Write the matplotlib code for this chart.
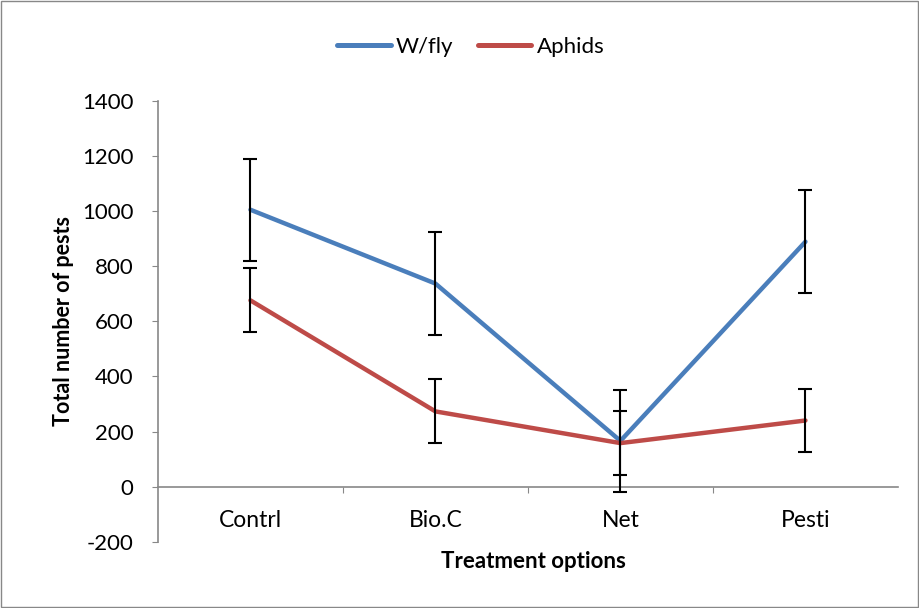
import matplotlib
matplotlib.use("Agg")
import matplotlib.pyplot as plt
from matplotlib.patches import Rectangle

categories = ["Contrl", "Bio.C", "Net", "Pesti"]
wfly = [1005, 737, 166, 889]
wfly_err = [186, 186, 186, 186]
aphids = [676, 273, 158, 240]
aphids_err = [116, 116, 116, 116]
yticks = [-200, 0, 200, 400, 600, 800, 1000, 1200, 1400]

plt.rcParams['font.family'] = ['Lato', 'DejaVu Sans']

fig = plt.figure(figsize=(9.2, 6.08), dpi=100)
fig.patches.append(Rectangle((0.001, 0.001), 0.997, 0.997, transform=fig.transFigure,
                             fill=False, edgecolor='#888888', linewidth=1))
ax = fig.add_axes([0.1717, 0.109, 0.8043, 0.725])

x = list(range(len(categories)))
blue = '#4A7EBB'
red = '#BE4B48'
ax.plot(x, wfly, color=blue, lw=3.2, label='W/fly', solid_capstyle='round', zorder=3)
ax.plot(x, aphids, color=red, lw=3.2, label='Aphids', solid_capstyle='round', zorder=3)
ax.errorbar(x, wfly, yerr=wfly_err, fmt='none', ecolor='black', elinewidth=1.5,
            capsize=5, capthick=1.5, zorder=4)
ax.errorbar(x, aphids, yerr=aphids_err, fmt='none', ecolor='black', elinewidth=1.5,
            capsize=5, capthick=1.5, zorder=4)

ax.set_xlim(-0.5, 3.5)
ax.set_ylim(-200, 1400)
ax.set_yticks(yticks)
ax.set_yticklabels([str(v) for v in yticks], fontsize=16)

for s in ['top', 'right']:
    ax.spines[s].set_visible(False)
ax.spines['left'].set_color('#888888')
ax.spines['bottom'].set_color('#888888')
ax.spines['bottom'].set_position(('data', 0))
ax.spines['left'].set_linewidth(1.2)
ax.spines['bottom'].set_linewidth(1.2)

ax.tick_params(axis='y', direction='out', length=4.5, color='#888888', pad=13)
ax.set_xticks([0.5, 1.5, 2.5])
ax.set_xticklabels([])
ax.tick_params(axis='x', which='major', direction='out', length=4.5, color='#888888')
ax.set_xticks(x, minor=True)
ax.set_xticklabels(categories, minor=True, fontsize=16.5)
ax.tick_params(axis='x', which='minor', length=0, pad=17)

ax.set_ylabel('Total number of pests', fontsize=15.5, fontweight='bold', labelpad=6)
ax.set_xlabel('Treatment options', fontsize=16, fontweight='bold')
ax.xaxis.set_label_coords(0.508, -0.022)

leg = ax.legend(loc='upper center', bbox_to_anchor=(0.423, 1.19), ncol=2, frameon=False,
                fontsize=16, handlelength=2.4, handletextpad=0.25, columnspacing=1.1)
for h in leg.get_lines():
    h.set_linewidth(3.6)

fig.savefig('out.png', dpi=100, facecolor='white')
